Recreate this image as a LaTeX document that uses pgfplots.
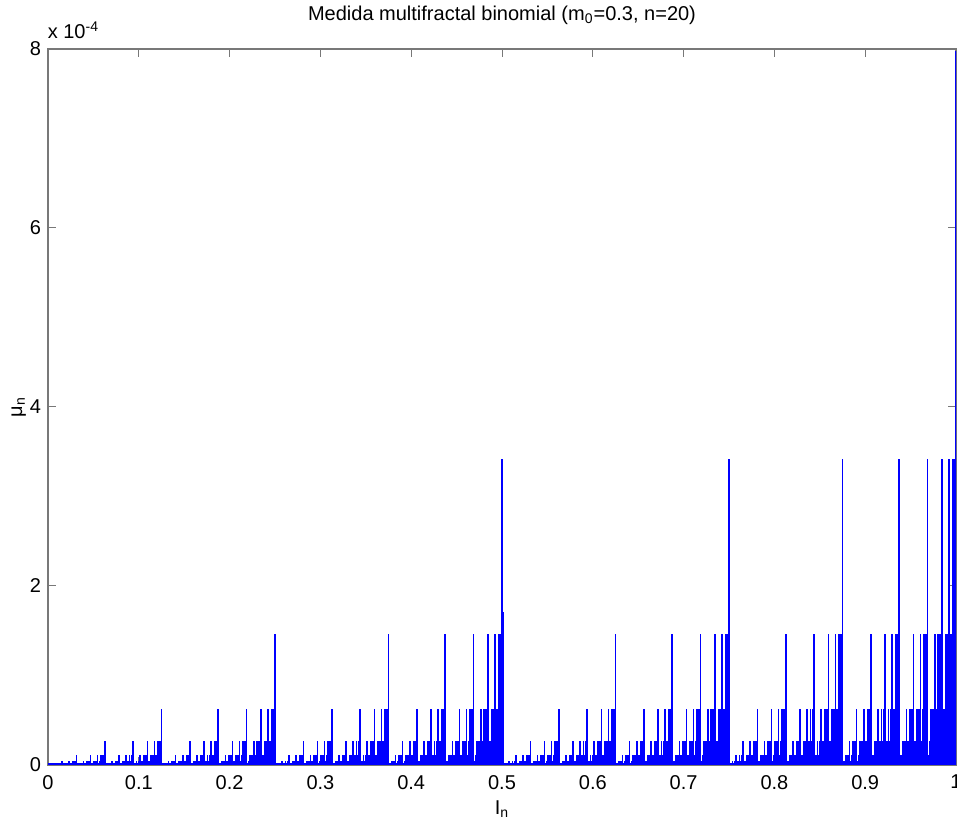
\documentclass[border=0pt]{standalone}
\usepackage{fontspec}
\setmainfont{Liberation Sans}
\usepackage{pgfplots}
\usepackage{pgfplotstable}
\pgfplotsset{compat=1.18}
\definecolor{axgray}{RGB}{120,120,120}
\pgfplotstableread[row sep=\\,header=false]{
0.0017\\0.0039\\0.0039\\0.0091\\0.0039\\0.0091\\0.0091\\0.0212\\0.0039\\0.0091\\0.0091\\0.0212\\0.0091\\0.0212\\0.0212\\0.0494\\
0.0039\\0.0091\\0.0091\\0.0212\\0.0091\\0.0212\\0.0212\\0.0494\\0.0091\\0.0212\\0.0212\\0.0494\\0.0212\\0.0494\\0.0494\\0.1154\\
0.0039\\0.0091\\0.0091\\0.0212\\0.0091\\0.0212\\0.0212\\0.0494\\0.0091\\0.0212\\0.0212\\0.0494\\0.0212\\0.0494\\0.0494\\0.1154\\
0.0091\\0.0212\\0.0212\\0.0494\\0.0212\\0.0494\\0.0494\\0.1154\\0.0212\\0.0494\\0.0494\\0.1154\\0.0494\\0.1154\\0.1154\\0.2692\\
0.0039\\0.0091\\0.0091\\0.0212\\0.0091\\0.0212\\0.0212\\0.0494\\0.0091\\0.0212\\0.0212\\0.0494\\0.0212\\0.0494\\0.0494\\0.1154\\
0.0091\\0.0212\\0.0212\\0.0494\\0.0212\\0.0494\\0.0494\\0.1154\\0.0212\\0.0494\\0.0494\\0.1154\\0.0494\\0.1154\\0.1154\\0.2692\\
0.0091\\0.0212\\0.0212\\0.0494\\0.0212\\0.0494\\0.0494\\0.1154\\0.0212\\0.0494\\0.0494\\0.1154\\0.0494\\0.1154\\0.1154\\0.2692\\
0.0212\\0.0494\\0.0494\\0.1154\\0.0494\\0.1154\\0.1154\\0.2692\\0.0494\\0.1154\\0.1154\\0.2692\\0.1154\\0.2692\\0.2692\\0.6281\\
0.0039\\0.0091\\0.0091\\0.0212\\0.0091\\0.0212\\0.0212\\0.0494\\0.0091\\0.0212\\0.0212\\0.0494\\0.0212\\0.0494\\0.0494\\0.1154\\
0.0091\\0.0212\\0.0212\\0.0494\\0.0212\\0.0494\\0.0494\\0.1154\\0.0212\\0.0494\\0.0494\\0.1154\\0.0494\\0.1154\\0.1154\\0.2692\\
0.0091\\0.0212\\0.0212\\0.0494\\0.0212\\0.0494\\0.0494\\0.1154\\0.0212\\0.0494\\0.0494\\0.1154\\0.0494\\0.1154\\0.1154\\0.2692\\
0.0212\\0.0494\\0.0494\\0.1154\\0.0494\\0.1154\\0.1154\\0.2692\\0.0494\\0.1154\\0.1154\\0.2692\\0.1154\\0.2692\\0.2692\\0.6281\\
0.0091\\0.0212\\0.0212\\0.0494\\0.0212\\0.0494\\0.0494\\0.1154\\0.0212\\0.0494\\0.0494\\0.1154\\0.0494\\0.1154\\0.1154\\0.2692\\
0.0212\\0.0494\\0.0494\\0.1154\\0.0494\\0.1154\\0.1154\\0.2692\\0.0494\\0.1154\\0.1154\\0.2692\\0.1154\\0.2692\\0.2692\\0.6281\\
0.0212\\0.0494\\0.0494\\0.1154\\0.0494\\0.1154\\0.1154\\0.2692\\0.0494\\0.1154\\0.1154\\0.2692\\0.1154\\0.2692\\0.2692\\0.6281\\
0.0494\\0.1154\\0.1154\\0.2692\\0.1154\\0.2692\\0.2692\\0.6281\\0.1154\\0.2692\\0.2692\\0.6281\\0.2692\\0.6281\\0.6281\\1.4656\\
0.0039\\0.0091\\0.0091\\0.0212\\0.0091\\0.0212\\0.0212\\0.0494\\0.0091\\0.0212\\0.0212\\0.0494\\0.0212\\0.0494\\0.0494\\0.1154\\
0.0091\\0.0212\\0.0212\\0.0494\\0.0212\\0.0494\\0.0494\\0.1154\\0.0212\\0.0494\\0.0494\\0.1154\\0.0494\\0.1154\\0.1154\\0.2692\\
0.0091\\0.0212\\0.0212\\0.0494\\0.0212\\0.0494\\0.0494\\0.1154\\0.0212\\0.0494\\0.0494\\0.1154\\0.0494\\0.1154\\0.1154\\0.2692\\
0.0212\\0.0494\\0.0494\\0.1154\\0.0494\\0.1154\\0.1154\\0.2692\\0.0494\\0.1154\\0.1154\\0.2692\\0.1154\\0.2692\\0.2692\\0.6281\\
0.0091\\0.0212\\0.0212\\0.0494\\0.0212\\0.0494\\0.0494\\0.1154\\0.0212\\0.0494\\0.0494\\0.1154\\0.0494\\0.1154\\0.1154\\0.2692\\
0.0212\\0.0494\\0.0494\\0.1154\\0.0494\\0.1154\\0.1154\\0.2692\\0.0494\\0.1154\\0.1154\\0.2692\\0.1154\\0.2692\\0.2692\\0.6281\\
0.0212\\0.0494\\0.0494\\0.1154\\0.0494\\0.1154\\0.1154\\0.2692\\0.0494\\0.1154\\0.1154\\0.2692\\0.1154\\0.2692\\0.2692\\0.6281\\
0.0494\\0.1154\\0.1154\\0.2692\\0.1154\\0.2692\\0.2692\\0.6281\\0.1154\\0.2692\\0.2692\\0.6281\\0.2692\\0.6281\\0.6281\\1.4656\\
0.0091\\0.0212\\0.0212\\0.0494\\0.0212\\0.0494\\0.0494\\0.1154\\0.0212\\0.0494\\0.0494\\0.1154\\0.0494\\0.1154\\0.1154\\0.2692\\
0.0212\\0.0494\\0.0494\\0.1154\\0.0494\\0.1154\\0.1154\\0.2692\\0.0494\\0.1154\\0.1154\\0.2692\\0.1154\\0.2692\\0.2692\\0.6281\\
0.0212\\0.0494\\0.0494\\0.1154\\0.0494\\0.1154\\0.1154\\0.2692\\0.0494\\0.1154\\0.1154\\0.2692\\0.1154\\0.2692\\0.2692\\0.6281\\
0.0494\\0.1154\\0.1154\\0.2692\\0.1154\\0.2692\\0.2692\\0.6281\\0.1154\\0.2692\\0.2692\\0.6281\\0.2692\\0.6281\\0.6281\\1.4656\\
0.0212\\0.0494\\0.0494\\0.1154\\0.0494\\0.1154\\0.1154\\0.2692\\0.0494\\0.1154\\0.1154\\0.2692\\0.1154\\0.2692\\0.2692\\0.6281\\
0.0494\\0.1154\\0.1154\\0.2692\\0.1154\\0.2692\\0.2692\\0.6281\\0.1154\\0.2692\\0.2692\\0.6281\\0.2692\\0.6281\\0.6281\\1.4656\\
0.0494\\0.1154\\0.1154\\0.2692\\0.1154\\0.2692\\0.2692\\0.6281\\0.1154\\0.2692\\0.2692\\0.6281\\0.2692\\0.6281\\0.6281\\1.4656\\
0.1154\\0.2692\\0.2692\\0.6281\\0.2692\\0.6281\\0.6281\\1.4656\\0.2692\\0.6281\\0.6281\\1.4656\\0.6281\\1.4656\\1.4656\\3.4197\\
0.0039\\0.0091\\0.0091\\0.0212\\0.0091\\0.0212\\0.0212\\0.0494\\0.0091\\0.0212\\0.0212\\0.0494\\0.0212\\0.0494\\0.0494\\0.1154\\
0.0091\\0.0212\\0.0212\\0.0494\\0.0212\\0.0494\\0.0494\\0.1154\\0.0212\\0.0494\\0.0494\\0.1154\\0.0494\\0.1154\\0.1154\\0.2692\\
0.0091\\0.0212\\0.0212\\0.0494\\0.0212\\0.0494\\0.0494\\0.1154\\0.0212\\0.0494\\0.0494\\0.1154\\0.0494\\0.1154\\0.1154\\0.2692\\
0.0212\\0.0494\\0.0494\\0.1154\\0.0494\\0.1154\\0.1154\\0.2692\\0.0494\\0.1154\\0.1154\\0.2692\\0.1154\\0.2692\\0.2692\\0.6281\\
0.0091\\0.0212\\0.0212\\0.0494\\0.0212\\0.0494\\0.0494\\0.1154\\0.0212\\0.0494\\0.0494\\0.1154\\0.0494\\0.1154\\0.1154\\0.2692\\
0.0212\\0.0494\\0.0494\\0.1154\\0.0494\\0.1154\\0.1154\\0.2692\\0.0494\\0.1154\\0.1154\\0.2692\\0.1154\\0.2692\\0.2692\\0.6281\\
0.0212\\0.0494\\0.0494\\0.1154\\0.0494\\0.1154\\0.1154\\0.2692\\0.0494\\0.1154\\0.1154\\0.2692\\0.1154\\0.2692\\0.2692\\0.6281\\
0.0494\\0.1154\\0.1154\\0.2692\\0.1154\\0.2692\\0.2692\\0.6281\\0.1154\\0.2692\\0.2692\\0.6281\\0.2692\\0.6281\\0.6281\\1.4656\\
0.0091\\0.0212\\0.0212\\0.0494\\0.0212\\0.0494\\0.0494\\0.1154\\0.0212\\0.0494\\0.0494\\0.1154\\0.0494\\0.1154\\0.1154\\0.2692\\
0.0212\\0.0494\\0.0494\\0.1154\\0.0494\\0.1154\\0.1154\\0.2692\\0.0494\\0.1154\\0.1154\\0.2692\\0.1154\\0.2692\\0.2692\\0.6281\\
0.0212\\0.0494\\0.0494\\0.1154\\0.0494\\0.1154\\0.1154\\0.2692\\0.0494\\0.1154\\0.1154\\0.2692\\0.1154\\0.2692\\0.2692\\0.6281\\
0.0494\\0.1154\\0.1154\\0.2692\\0.1154\\0.2692\\0.2692\\0.6281\\0.1154\\0.2692\\0.2692\\0.6281\\0.2692\\0.6281\\0.6281\\1.4656\\
0.0212\\0.0494\\0.0494\\0.1154\\0.0494\\0.1154\\0.1154\\0.2692\\0.0494\\0.1154\\0.1154\\0.2692\\0.1154\\0.2692\\0.2692\\0.6281\\
0.0494\\0.1154\\0.1154\\0.2692\\0.1154\\0.2692\\0.2692\\0.6281\\0.1154\\0.2692\\0.2692\\0.6281\\0.2692\\0.6281\\0.6281\\1.4656\\
0.0494\\0.1154\\0.1154\\0.2692\\0.1154\\0.2692\\0.2692\\0.6281\\0.1154\\0.2692\\0.2692\\0.6281\\0.2692\\0.6281\\0.6281\\1.4656\\
0.1154\\0.2692\\0.2692\\0.6281\\0.2692\\0.6281\\0.6281\\1.4656\\0.2692\\0.6281\\0.6281\\1.4656\\0.6281\\1.4656\\1.4656\\3.4197\\
0.0091\\0.0212\\0.0212\\0.0494\\0.0212\\0.0494\\0.0494\\0.1154\\0.0212\\0.0494\\0.0494\\0.1154\\0.0494\\0.1154\\0.1154\\0.2692\\
0.0212\\0.0494\\0.0494\\0.1154\\0.0494\\0.1154\\0.1154\\0.2692\\0.0494\\0.1154\\0.1154\\0.2692\\0.1154\\0.2692\\0.2692\\0.6281\\
0.0212\\0.0494\\0.0494\\0.1154\\0.0494\\0.1154\\0.1154\\0.2692\\0.0494\\0.1154\\0.1154\\0.2692\\0.1154\\0.2692\\0.2692\\0.6281\\
0.0494\\0.1154\\0.1154\\0.2692\\0.1154\\0.2692\\0.2692\\0.6281\\0.1154\\0.2692\\0.2692\\0.6281\\0.2692\\0.6281\\0.6281\\1.4656\\
0.0212\\0.0494\\0.0494\\0.1154\\0.0494\\0.1154\\0.1154\\0.2692\\0.0494\\0.1154\\0.1154\\0.2692\\0.1154\\0.2692\\0.2692\\0.6281\\
0.0494\\0.1154\\0.1154\\0.2692\\0.1154\\0.2692\\0.2692\\0.6281\\0.1154\\0.2692\\0.2692\\0.6281\\0.2692\\0.6281\\0.6281\\1.4656\\
0.0494\\0.1154\\0.1154\\0.2692\\0.1154\\0.2692\\0.2692\\0.6281\\0.1154\\0.2692\\0.2692\\0.6281\\0.2692\\0.6281\\0.6281\\1.4656\\
0.1154\\0.2692\\0.2692\\0.6281\\0.2692\\0.6281\\0.6281\\1.4656\\0.2692\\0.6281\\0.6281\\1.4656\\0.6281\\1.4656\\1.4656\\3.4197\\
0.0212\\0.0494\\0.0494\\0.1154\\0.0494\\0.1154\\0.1154\\0.2692\\0.0494\\0.1154\\0.1154\\0.2692\\0.1154\\0.2692\\0.2692\\0.6281\\
0.0494\\0.1154\\0.1154\\0.2692\\0.1154\\0.2692\\0.2692\\0.6281\\0.1154\\0.2692\\0.2692\\0.6281\\0.2692\\0.6281\\0.6281\\1.4656\\
0.0494\\0.1154\\0.1154\\0.2692\\0.1154\\0.2692\\0.2692\\0.6281\\0.1154\\0.2692\\0.2692\\0.6281\\0.2692\\0.6281\\0.6281\\1.4656\\
0.1154\\0.2692\\0.2692\\0.6281\\0.2692\\0.6281\\0.6281\\1.4656\\0.2692\\0.6281\\0.6281\\1.4656\\0.6281\\1.4656\\1.4656\\3.4197\\
0.0494\\0.1154\\0.1154\\0.2692\\0.1154\\0.2692\\0.2692\\0.6281\\0.1154\\0.2692\\0.2692\\0.6281\\0.2692\\0.6281\\0.6281\\1.4656\\
0.1154\\0.2692\\0.2692\\0.6281\\0.2692\\0.6281\\0.6281\\1.4656\\0.2692\\0.6281\\0.6281\\1.4656\\0.6281\\1.4656\\1.4656\\3.4197\\
0.1154\\0.2692\\0.2692\\0.6281\\0.2692\\0.6281\\0.6281\\1.4656\\0.2692\\0.6281\\0.6281\\1.4656\\0.6281\\1.4656\\1.4656\\3.4197\\
0.2692\\0.6281\\0.6281\\1.4656\\0.6281\\1.4656\\1.4656\\3.4197\\0.6281\\1.4656\\1.4656\\3.4197\\1.4656\\3.4197\\3.4197\\7.9792\\
}\mudata
\begin{document}
\begin{tikzpicture}
\useasboundingbox (-24pt,-31.5pt) rectangle (454.5pt,382.5pt);
\clip (-24pt,-31.5pt) rectangle (454.5pt,382.5pt);
\begin{axis}[
  scale only axis, width=454pt, height=358pt,
  at={(0,0)}, anchor=south west,
  xmin=0, xmax=1024, ymin=0, ymax=8,
  xtick={0,102.4,204.8,307.2,409.6,512,614.4,716.8,819.2,921.6,1024},
  xticklabels={0,0.1,0.2,0.3,0.4,0.5,0.6,0.7,0.8,0.9,1},
  ytick={0,2,4,6,8}, yticklabels={0,2,4,6,8},
  tick align=inside, major tick length=4pt,
  axis line style={axgray, line width=0.6pt},
  tick style={axgray, line width=0.5pt},
  xticklabel style={yshift=-1.5pt},
  title={Medida multifractal binomial (m\textsubscript{0}=0.3, n=20)},
  title style={at={(0.5,1)}, anchor=base, yshift=8pt, inner sep=0pt},
  xlabel={I\textsubscript{n}},
  xlabel style={at={(0.5,0)}, anchor=base, yshift=-25pt, inner sep=0pt},
  ylabel={μ\textsubscript{n}},
  ylabel style={at={([xshift=-13pt]axis description cs:0,0.5)}, anchor=base, inner sep=0pt},
  clip=true,
]
\addplot[blue, line width=1.6pt] coordinates {(0,0) (1024,0)};
\addplot[ycomb, blue, line width=0.8pt, no marks] table[x expr=\coordindex+1, y index=0] {\mudata};
\addplot[ycomb, blue, line width=1pt, no marks] coordinates {(512.8,1.71)};
\end{axis}
\node[anchor=base west, inner sep=0pt] at (-0.3pt,363pt) {x 10\textsuperscript{-4}};
\end{tikzpicture}
\end{document}
